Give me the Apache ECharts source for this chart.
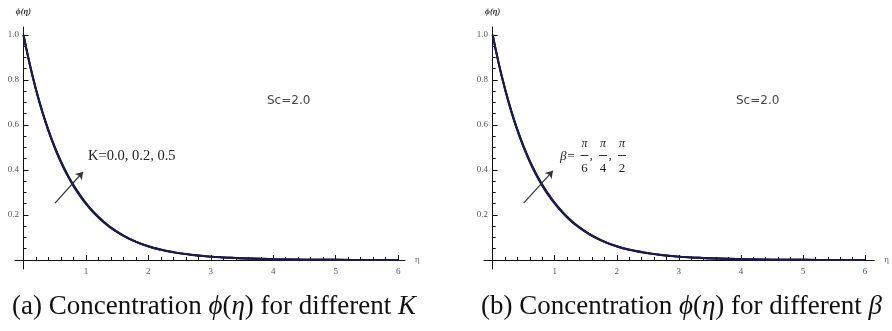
<!DOCTYPE html>
<html>
<head>
<meta charset="utf-8">
<script src="https://cdn.jsdelivr.net/npm/echarts@6/dist/echarts.min.js"></script>
<style>html,body{margin:0;padding:0;background:#fff;}#c{width:892px;height:331px;}</style>
</head>
<body>
<div id="c"></div>
<script>
// ---- data ----
const eta = [0, 0.1, 0.2, 0.3, 0.4, 0.5, 0.6, 0.7, 0.8, 0.9, 1.0, 1.2, 1.4, 1.6, 1.8, 2.0, 2.2, 2.4, 2.6, 2.8, 3.0, 3.3, 3.6, 4.0, 4.5, 5.0, 5.5, 6.0];
// panel (a): K = 0.0, 0.2, 0.5
const phiK0  = [1.000, 0.868, 0.755, 0.657, 0.572, 0.498, 0.433, 0.377, 0.328, 0.286, 0.249, 0.188, 0.142, 0.107, 0.080, 0.060, 0.045, 0.034, 0.026, 0.019, 0.015, 0.010, 0.0065, 0.0038, 0.0018, 0.0009, 0.0004, 0.0002];
const phiK02 = [1.000, 0.870, 0.757, 0.660, 0.575, 0.500, 0.436, 0.380, 0.331, 0.289, 0.251, 0.190, 0.143, 0.108, 0.081, 0.061, 0.046, 0.035, 0.026, 0.020, 0.015, 0.010, 0.0065, 0.0038, 0.0018, 0.0009, 0.0004, 0.0002];
const phiK05 = [1.000, 0.872, 0.760, 0.663, 0.578, 0.504, 0.439, 0.383, 0.334, 0.292, 0.254, 0.192, 0.145, 0.109, 0.082, 0.062, 0.047, 0.035, 0.027, 0.020, 0.015, 0.010, 0.0065, 0.0038, 0.0018, 0.0009, 0.0004, 0.0002];
// panel (b): beta = pi/6, pi/4, pi/2
const phiB6 = [1.000, 0.868, 0.756, 0.658, 0.573, 0.499, 0.434, 0.378, 0.329, 0.287, 0.250, 0.189, 0.142, 0.107, 0.080, 0.060, 0.045, 0.034, 0.026, 0.019, 0.015, 0.010, 0.0065, 0.0038, 0.0018, 0.0009, 0.0004, 0.0002];
const phiB4 = [1.000, 0.870, 0.758, 0.661, 0.576, 0.501, 0.437, 0.381, 0.332, 0.290, 0.252, 0.190, 0.144, 0.108, 0.081, 0.061, 0.046, 0.035, 0.026, 0.020, 0.015, 0.010, 0.0065, 0.0038, 0.0018, 0.0009, 0.0004, 0.0002];
const phiB2 = [1.000, 0.872, 0.761, 0.664, 0.579, 0.505, 0.440, 0.384, 0.335, 0.293, 0.255, 0.193, 0.145, 0.110, 0.082, 0.062, 0.047, 0.036, 0.027, 0.020, 0.015, 0.010, 0.0065, 0.0038, 0.0018, 0.0009, 0.0004, 0.0002];

const xMajor = [1, 2, 3, 4, 5, 6];
const xMinor = [0.2,0.4,0.6,0.8,1.2,1.4,1.6,1.8,2.2,2.4,2.6,2.8,3.2,3.4,3.6,3.8,4.2,4.4,4.6,4.8,5.2,5.4,5.6,5.8,6.0];
const yMajor = [0.2, 0.4, 0.6, 0.8, 1.0];
const yMinor = [0.05,0.1,0.15,0.25,0.3,0.35,0.45,0.5,0.55,0.65,0.7,0.75,0.85,0.9,0.95];

// ---- chart ----
const chart = echarts.init(document.getElementById('c'), null, {renderer: 'canvas'});
const lineColors = ['#15153a', '#22225a', '#1b1b4a'];
const serif = 'Liberation Serif';

function xAxesFor(grid, base, min, max) {
  return [
    {
      type: 'value', gridIndex: grid, position: 'bottom', min: min, max: max,
      axisLine: {onZero: true, onZeroAxisIndex: base, lineStyle: {color: '#111', width: 1}},
      axisTick: {show: true, inside: true, length: 5, customValues: xMajor, lineStyle: {color: '#111', width: 1}},
      axisLabel: {show: true, customValues: xMajor, color: '#555', fontSize: 9, fontFamily: serif, margin: -2},
      splitLine: {show: false},
      name: 'η', nameLocation: 'end', nameGap: 10,
      nameTextStyle: {color: '#666', fontSize: 9, fontFamily: serif, align: 'left', verticalAlign: 'middle'}
    },
    {
      type: 'value', gridIndex: grid, position: 'bottom', min: min, max: max,
      axisLine: {show: false, onZero: true, onZeroAxisIndex: base},
      axisTick: {show: true, inside: true, length: 3, customValues: xMinor, lineStyle: {color: '#111', width: 1}},
      axisLabel: {show: false},
      splitLine: {show: false}
    }
  ];
}
function yAxesFor(grid, base) {
  return [
    {
      type: 'value', gridIndex: grid, position: 'left', min: -0.04, max: 1.035,
      axisLine: {onZero: true, onZeroAxisIndex: base, lineStyle: {color: '#111', width: 1}},
      axisTick: {show: true, inside: true, length: 5, customValues: yMajor, lineStyle: {color: '#111', width: 1}},
      axisLabel: {show: true, customValues: yMajor, color: '#555', fontSize: 9, fontFamily: serif, margin: -4,
                  formatter: v => v.toFixed(1)},
      splitLine: {show: false},
      name: 'ϕ(η)', nameLocation: 'end', nameGap: 11,
      nameTextStyle: {color: '#333', fontSize: 8.5, fontFamily: serif, fontStyle: 'italic', fontWeight: 'bold', align: 'center'}
    },
    {
      type: 'value', gridIndex: grid, position: 'left', min: -0.04, max: 1.035,
      axisLine: {show: false, onZero: true, onZeroAxisIndex: base},
      axisTick: {show: true, inside: true, length: 3, customValues: yMinor, lineStyle: {color: '#111', width: 1}},
      axisLabel: {show: false},
      splitLine: {show: false}
    }
  ];
}

function pairs(ys) { return eta.map((x, i) => [x, ys[i]]); }

function curve(ys, xi, yi, color, arrow) {
  const s = {
    type: 'line', xAxisIndex: xi, yAxisIndex: yi, data: pairs(ys),
    showSymbol: false, smooth: 0.5,
    lineStyle: {color: color, width: 1.9}, animation: false, silent: true, z: 3
  };
  if (arrow) {
    s.markLine = {
      silent: true, animation: false, symbol: ['none', 'arrow'], symbolSize: 7,
      lineStyle: {color: '#333', width: 1.2, type: 'solid'}, label: {show: false},
      data: [[{coord: arrow[0]}, {coord: arrow[1]}]]
    };
  }
  return s;
}

const option = {
  backgroundColor: '#fff',
  animation: false,
  grid: [
    {left: 15, top: 27, width: 390, height: 242},
    {left: 484, top: 27, width: 392, height: 242}
  ],
  xAxis: [].concat(xAxesFor(0, 0, -0.136, 6.11), xAxesFor(1, 2, -0.14, 6.15)),
  yAxis: [].concat(yAxesFor(0, 0), yAxesFor(1, 2)),
  series: [
    curve(phiK0, 0, 0, lineColors[0], [[0.505, 0.253], [0.953, 0.391]]),
    curve(phiK02, 0, 0, lineColors[1]),
    curve(phiK05, 0, 0, lineColors[2]),
    curve(phiB6, 2, 2, lineColors[0], [[0.50, 0.253], [0.97, 0.396]]),
    curve(phiB4, 2, 2, lineColors[1]),
    curve(phiB2, 2, 2, lineColors[2])
  ],
  graphic: [
    {type: 'text', left: 267, top: 95, style: {text: 'Sc=2.0', fill: '#444', font: '12px "DejaVu Sans"'}},
    {type: 'text', left: 736, top: 95, style: {text: 'Sc=2.0', fill: '#444', font: '12px "DejaVu Sans"'}},
    {type: 'text', left: 88, top: 149, style: {text: 'K=0.0, 0.2, 0.5', fill: '#222', font: '14.5px "Liberation Serif"'}},
    // beta annotation
    {type: 'text', left: 560, top: 150, style: {text: 'β=', fill: '#222', font: 'italic 13px "Liberation Serif"'}},
    {type: 'text', x: 584.5, y: 144, style: {text: 'π', fill: '#222', font: 'italic 12px "Liberation Serif"', align: 'center', verticalAlign: 'middle'}},
    {type: 'text', x: 603, y: 144, style: {text: 'π', fill: '#222', font: 'italic 12px "Liberation Serif"', align: 'center', verticalAlign: 'middle'}},
    {type: 'text', x: 622, y: 144, style: {text: 'π', fill: '#222', font: 'italic 12px "Liberation Serif"', align: 'center', verticalAlign: 'middle'}},
    {type: 'line', shape: {x1: 580.5, y1: 155.5, x2: 588.5, y2: 155.5}, style: {stroke: '#333', lineWidth: 1}},
    {type: 'line', shape: {x1: 599, y1: 155.5, x2: 607, y2: 155.5}, style: {stroke: '#333', lineWidth: 1}},
    {type: 'line', shape: {x1: 618, y1: 155.5, x2: 626, y2: 155.5}, style: {stroke: '#333', lineWidth: 1}},
    {type: 'text', x: 584.5, y: 169, style: {text: '6', fill: '#222', font: '13px "Liberation Serif"', align: 'center', verticalAlign: 'middle'}},
    {type: 'text', x: 603, y: 169, style: {text: '4', fill: '#222', font: '13px "Liberation Serif"', align: 'center', verticalAlign: 'middle'}},
    {type: 'text', x: 622, y: 169, style: {text: '2', fill: '#222', font: '13px "Liberation Serif"', align: 'center', verticalAlign: 'middle'}},
    {type: 'text', x: 591, y: 156, style: {text: ',', fill: '#222', font: '13px "Liberation Serif"', align: 'center', verticalAlign: 'middle'}},
    {type: 'text', x: 610, y: 156, style: {text: ',', fill: '#222', font: '13px "Liberation Serif"', align: 'center', verticalAlign: 'middle'}},
    // captions
    {type: 'text', left: 12, top: 293, style: {
      text: '(a) Concentration {i|ϕ}({i|η}) for different {i|K}', fill: '#111', font: '27px "Liberation Serif"',
      rich: {i: {fontStyle: 'italic', fontSize: 27, fontFamily: 'Liberation Serif', fill: '#111'}}}},
    {type: 'text', left: 481, top: 293, style: {
      text: '(b) Concentration {i|ϕ}({i|η}) for different {i|β}', fill: '#111', font: '27px "Liberation Serif"',
      rich: {i: {fontStyle: 'italic', fontSize: 27, fontFamily: 'Liberation Serif', fill: '#111'}}}}
  ]
};
chart.setOption(option);
</script>
</body>
</html>
